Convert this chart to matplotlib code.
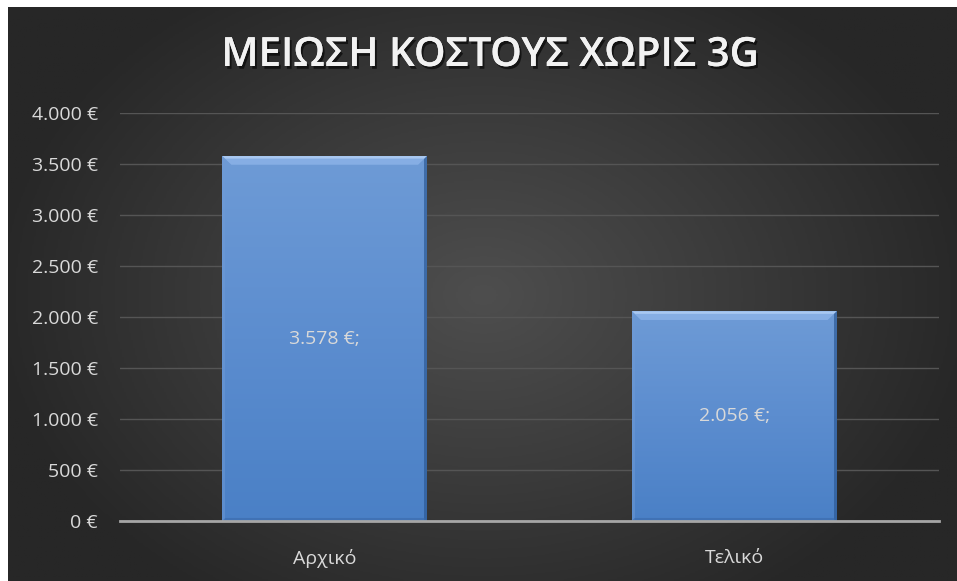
import numpy as np
import matplotlib.pyplot as plt
from matplotlib.colors import LinearSegmentedColormap
from matplotlib.patches import Polygon
import matplotlib.patheffects as pe

plt.rcParams['font.family'] = ['Open Sans', 'DejaVu Sans']

categories = ['Αρχικό', 'Τελικό']
values = [3578, 2056]
value_labels = ['3.578 €;', '2.056 €;']
yticks = [0, 500, 1000, 1500, 2000, 2500, 3000, 3500, 4000]
ytick_labels = ['0 €', '500 €', '1.000 €', '1.500 €', '2.000 €', '2.500 €',
                '3.000 €', '3.500 €', '4.000 €']
title = 'ΜΕΙΩΣΗ ΚΟΣΤΟΥΣ ΧΩΡΙΣ 3G'

W, H = 957, 581
fig = plt.figure(figsize=(W / 100, H / 100), dpi=100, facecolor='white')

# dark radial background
bg = fig.add_axes([8 / W, 0, (W - 8) / W, (H - 7) / H])
bg.set_axis_off()
yy, xx = np.mgrid[0:300, 0:500]
cx, cy = 250, 150
r = np.sqrt(((xx - cx) / 260) ** 2 + ((yy - cy) / 190) ** 2)
r = np.clip(r, 0, 1)
bg_cmap = LinearSegmentedColormap.from_list('bg', ['#4e4e4e', '#3b3b3b', '#272727'])
bg.imshow(r, cmap=bg_cmap, aspect='auto', extent=[0, 1, 0, 1], vmin=0, vmax=1)
bg.set_xlim(0, 1)
bg.set_ylim(0, 1)

ax = fig.add_axes([120 / W, 60 / H, (939 - 120) / W, (521 - 113) / H])
ax.set_facecolor('none')

x = np.arange(len(categories))
width = 0.5
bars = ax.bar(x, values, width=width, color='#5a88cc', zorder=2)

# gradient fill + bevel for each bar
bar_cmap = LinearSegmentedColormap.from_list('bar', ['#4a80c6', '#5c8dcf', '#6e9bd6'])
grad = np.linspace(0, 1, 256).reshape(-1, 1)
bx, by = 0.022, 85
sx = 0.007
for rect in bars:
    x0, w, h = rect.get_x(), rect.get_width(), rect.get_height()
    im = ax.imshow(grad, cmap=bar_cmap, origin='lower', aspect='auto',
                   extent=[x0, x0 + w, 0, h], zorder=3)
    im.set_clip_path(rect)
    # top bevel
    ax.add_patch(Polygon([[x0, h], [x0 + w, h], [x0 + w - bx, h - by], [x0 + bx, h - by]],
                         closed=True, facecolor='#8fb6ea', edgecolor='none', alpha=0.75, zorder=4))
    ax.add_patch(Polygon([[x0, h], [x0 + w, h], [x0 + w - sx, h - 25], [x0 + sx, h - 25]],
                         closed=True, facecolor='#b8d4f7', edgecolor='none', alpha=0.7, zorder=4))
    # right edge (dark), left edge (light), bottom (dark)
    ax.add_patch(Polygon([[x0 + w, h], [x0 + w, 0], [x0 + w - sx, 0], [x0 + w - sx, h - 25]],
                         closed=True, facecolor='#2d5a96', edgecolor='none', alpha=0.7, zorder=4))
    ax.add_patch(Polygon([[x0, h], [x0, 0], [x0 + sx, 0], [x0 + sx, h - 25]],
                         closed=True, facecolor='#6f9bd6', edgecolor='none', alpha=0.5, zorder=4))
    ax.add_patch(Polygon([[x0, 0], [x0 + w, 0], [x0 + w - sx, 30], [x0 + sx, 30]],
                         closed=True, facecolor='#3a6aab', edgecolor='none', alpha=0.6, zorder=4))

ax.set_xlim(-0.5, 1.5)
ax.set_ylim(0, 4000)

for xi, v, lab in zip(x, values, value_labels):
    ax.text(xi, v / 2, lab, ha='center', va='center', color='#d9d9d9',
            fontsize=14, zorder=5)

ax.set_yticks(yticks)
ax.set_yticklabels(ytick_labels)
ax.set_xticks(x)
ax.set_xticklabels(categories)
ax.tick_params(axis='both', length=0, colors='#d9d9d9', labelsize=14)
ax.tick_params(axis='y', pad=16)
ax.tick_params(axis='x', pad=20)
ax.grid(axis='y', color='#555555', linewidth=1, zorder=0)
for s in ['top', 'right', 'left']:
    ax.spines[s].set_visible(False)
ax.spines['bottom'].set_color('#a6a6a6')
ax.spines['bottom'].set_linewidth(2)
ax.spines['bottom'].set_zorder(6)

fig.text(490 / W, 1 - 56 / H, title, ha='center', va='center', color='#f2f2f2',
         fontsize=29, fontweight='semibold',
         path_effects=[pe.withSimplePatchShadow(offset=(1.5, -2), shadow_rgbFace='black', alpha=0.6),
                       pe.Normal()])

fig.savefig('out.png', dpi=100, facecolor='white')
